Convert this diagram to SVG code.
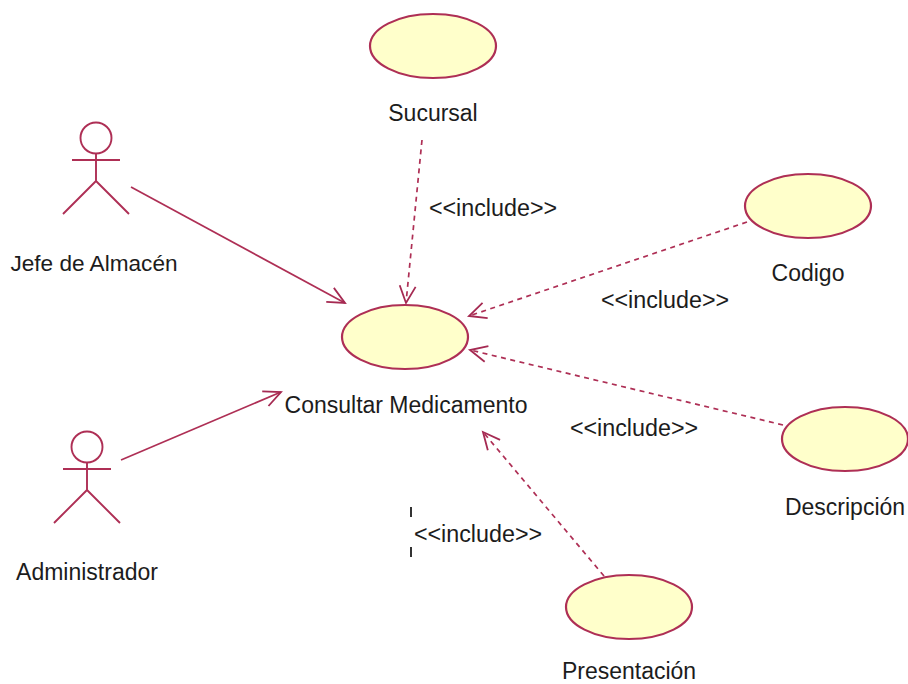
<svg xmlns="http://www.w3.org/2000/svg" width="908" height="684" viewBox="0 0 908 684">
<defs>
<marker id="open" markerUnits="userSpaceOnUse" markerWidth="24" markerHeight="24" refX="19" refY="10" orient="auto"><path d="M2 2 L19 10 L2 18" fill="none" stroke="#a52a52" stroke-width="1.8"/></marker>
</defs>
<style>
text{font-family:"Liberation Sans",Arial,sans-serif;font-size:23px;fill:#1c1c1c}
.inc{font-size:23.3px}
.uc{fill:#ffffcb;stroke:#ae2f55;stroke-width:2.2}
.act{fill:none;stroke:#ae2f55;stroke-width:1.9}
.c{fill:none;stroke:#ae2f55;stroke-width:1.7;marker-end:url(#open)}
.d{stroke-dasharray:5 4.5}
</style>
<rect width="908" height="684" fill="#fff"/>
<g id="connectors">
<path class="c" d="M131 187 L345 303"/>
<path class="c" d="M121 460 L281 392"/>
<path class="c d" d="M422 140 L406 303"/>
<path class="c d" d="M747 222 L469 316"/>
<path class="c d" d="M783 425 L470 350"/>
<path class="c d" d="M604 576 L483 432"/>
</g>
<g id="uc-sucursal"><ellipse class="uc" cx="433" cy="46" rx="63" ry="32"/><text x="433" y="121" text-anchor="middle">Sucursal</text></g>
<g id="uc-codigo"><ellipse class="uc" cx="808" cy="206" rx="63" ry="32"/><text x="808" y="281" text-anchor="middle">Codigo</text></g>
<g id="uc-consultar"><ellipse class="uc" cx="405" cy="337" rx="63" ry="32"/><text x="406" y="413" text-anchor="middle">Consultar Medicamento</text></g>
<g id="uc-descripcion"><ellipse class="uc" cx="845" cy="439" rx="63" ry="32"/><text x="845" y="515" text-anchor="middle">Descripción</text></g>
<g id="uc-presentacion"><ellipse class="uc" cx="629" cy="607" rx="63" ry="32"/><text x="629" y="679" text-anchor="middle">Presentación</text></g>
<g id="actor-jefe"><circle class="act" cx="96" cy="138" r="15.5"/><path class="act" d="M96 153 V181 M72 160 H120 M96 181 L63 214 M96 181 L129 214"/><text x="94" y="271" text-anchor="middle" style="font-size:22.6px">Jefe de Almacén</text></g>
<g id="actor-admin"><circle class="act" cx="87" cy="447" r="15.5"/><path class="act" d="M87 462 V490 M63 469 H111 M87 490 L54 523 M87 490 L120 523"/><text x="87" y="580" text-anchor="middle">Administrador</text></g>
<g id="labels">
<text class="inc" x="493" y="216" text-anchor="middle">&lt;&lt;include&gt;&gt;</text>
<text class="inc" x="665" y="308" text-anchor="middle">&lt;&lt;include&gt;&gt;</text>
<text class="inc" x="634" y="436" text-anchor="middle">&lt;&lt;include&gt;&gt;</text>
<text class="inc" x="478" y="542" text-anchor="middle">&lt;&lt;include&gt;&gt;</text>
<path d="M411 507 V517 M411 547 V557" stroke="#333" stroke-width="2" fill="none"/>
</g>
</svg>
